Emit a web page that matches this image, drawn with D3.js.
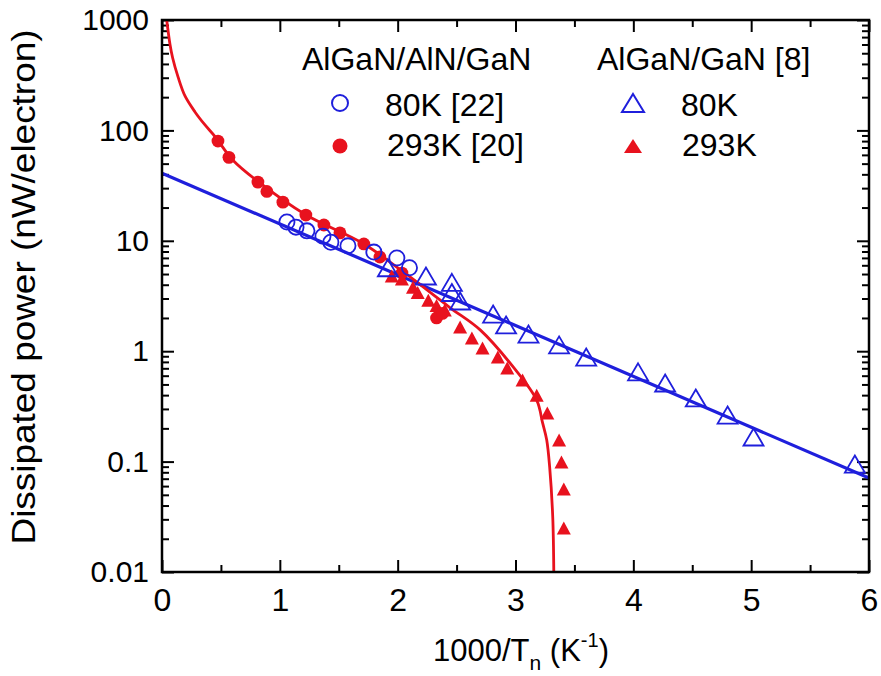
<!DOCTYPE html>
<html>
<head>
<meta charset="utf-8">
<script src="https://cdn.jsdelivr.net/npm/d3@7"></script>
<style>
  html, body { margin: 0; padding: 0; background: #fff; }
  svg { display: block; font-family: "Liberation Sans", Arial, Helvetica, sans-serif; }
</style>
</head>
<body>
<svg id="chart" width="881" height="676"></svg>
<script>
// Dissipated power per electron vs inverse electron temperature
const xTicks = [0, 1, 2, 3, 4, 5, 6];
const yTicks = [0.01, 0.1, 1, 10, 100, 1000];

// AlGaN/AlN/GaN, 80 K [22] (open circles)
const circ80X = [1.06, 1.137, 1.23, 1.366, 1.433, 1.578, 1.798, 1.993, 2.10];
const circ80Y = [14.8, 13.3, 12.3, 11.0, 9.7, 9.0, 7.9, 7.0, 5.7];

// AlGaN/AlN/GaN, 293 K [20] (filled circles)
const circ293X = [0.475, 0.568, 0.814, 0.89, 1.026, 1.221, 1.374, 1.51, 1.713, 1.849, 2.036, 2.33, 2.38];
const circ293Y = [80, 57, 34, 28, 22.4, 17.1, 13.9, 11.8, 9.36, 7.13, 5.1, 2.0, 2.2];

// AlGaN/GaN [8], 80 K (open triangles)
const tri80X = [1.917, 2.24, 2.46, 2.46, 2.53, 2.81, 2.92, 3.11, 3.37, 3.60, 4.04, 4.27, 4.53, 4.80, 5.02, 5.88];
const tri80Y = [5.7, 4.8, 4.2, 3.4, 2.85, 2.17, 1.73, 1.43, 1.14, 0.885, 0.65, 0.515, 0.377, 0.264, 0.167, 0.095];

// AlGaN/GaN [8], 293 K (filled triangles)
const tri293X = [1.95, 2.036, 2.13, 2.17, 2.26, 2.33, 2.40, 2.53, 2.63, 2.72, 2.85, 2.93, 3.06, 3.18, 3.27, 3.37, 3.39, 3.41, 3.41];
const tri293Y = [4.8, 4.5, 3.8, 3.4, 2.9, 2.6, 2.36, 1.66, 1.32, 1.07, 0.885, 0.705, 0.548, 0.40, 0.275, 0.157, 0.099, 0.0565, 0.025];

// fitted curves
const fit80X = [0, 6];
const fit80Y = [41, 0.071];
const fit293X = [0.04, 0.068, 0.09, 0.136, 0.195, 0.28, 0.365, 0.45, 0.6, 0.814, 1.22, 1.71, 2.04, 2.44, 2.70, 2.98, 3.18, 3.23, 3.265, 3.29, 3.316, 3.325];
const fit293Y = [1000, 600, 455, 305, 205, 147, 112, 88, 54, 34.5, 17.2, 9.4, 5.3, 2.5, 1.56, 0.72, 0.36, 0.224, 0.157, 0.089, 0.0315, 0.01];

const legendLeftTitle = "AlGaN/AlN/GaN";
const legendRightTitle = "AlGaN/GaN [8]";
const legendLeftLabels = ["80K [22]", "293K [20]"];
const legendRightLabels = ["80K", "293K"];

const BLUE = "#1f1fdc";
const RED = "#e8121e";

const svg = d3.select("#chart");
const L = 162, R = 869, T = 20, B = 572;

const x = d3.scaleLinear().domain([0, 6]).range([L, R]);
const y = d3.scaleLog().domain([0.01, 1000]).range([B, T]);

const zip = (xs, ys) => xs.map((v, i) => [v, ys[i]]);

// minor ticks
const xMinor = d3.range(0.5, 6, 1);
const yMinor = [];
for (let e = -2; e < 3; e++) for (let m = 2; m <= 9; m++) yMinor.push(m * Math.pow(10, e));

const tickStyle = g => {
  g.select(".domain").remove();
  g.selectAll(".tick line").attr("stroke", "#000").attr("stroke-width", 2);
};

// bottom axis with labels
svg.append("g").attr("transform", `translate(0,${B})`)
  .call(d3.axisBottom(x).tickValues(xTicks).tickSize(-12).tickPadding(16).tickFormat(d3.format("d")))
  .call(tickStyle)
  .call(g => g.selectAll("text").attr("font-size", 32).attr("fill", "#000").attr("font-family", null));
svg.append("g").attr("transform", `translate(0,${B})`)
  .call(d3.axisBottom(x).tickValues(xMinor).tickSize(-7).tickFormat(""))
  .call(tickStyle);
// top axis (mirror)
svg.append("g").attr("transform", `translate(0,${T})`)
  .call(d3.axisTop(x).tickValues(xTicks).tickSize(-12).tickFormat(""))
  .call(tickStyle);
svg.append("g").attr("transform", `translate(0,${T})`)
  .call(d3.axisTop(x).tickValues(xMinor).tickSize(-7).tickFormat(""))
  .call(tickStyle);

// left axis with labels
const yFmt = d => (d >= 1 ? d3.format("d")(d) : String(d));
svg.append("g").attr("transform", `translate(${L},0)`)
  .call(d3.axisLeft(y).tickValues(yTicks).tickSize(-12).tickPadding(13).tickFormat(yFmt))
  .call(tickStyle)
  .call(g => g.selectAll("text").attr("font-size", 30).attr("fill", "#000").attr("font-family", null));
svg.append("g").attr("transform", `translate(${L},0)`)
  .call(d3.axisLeft(y).tickValues(yMinor).tickSize(-7).tickFormat(""))
  .call(tickStyle);
// right axis (mirror)
svg.append("g").attr("transform", `translate(${R},0)`)
  .call(d3.axisRight(y).tickValues(yTicks).tickSize(-12).tickFormat(""))
  .call(tickStyle);
svg.append("g").attr("transform", `translate(${R},0)`)
  .call(d3.axisRight(y).tickValues(yMinor).tickSize(-7).tickFormat(""))
  .call(tickStyle);

// plot clip
svg.append("clipPath").attr("id", "plotClip")
  .append("rect").attr("x", L).attr("y", T).attr("width", R - L).attr("height", B - T);

const plot = svg.append("g").attr("clip-path", "url(#plotClip)");

const line = d3.line().x(d => x(d[0])).y(d => y(d[1])).curve(d3.curveCatmullRom.alpha(0.5));

plot.append("path").datum(zip(fit80X, fit80Y))
  .attr("d", d3.line().x(d => x(d[0])).y(d => y(d[1])))
  .attr("fill", "none").attr("stroke", BLUE).attr("stroke-width", 3.2);
plot.append("path").datum(zip(fit293X, fit293Y))
  .attr("d", line)
  .attr("fill", "none").attr("stroke", RED).attr("stroke-width", 2.8);

// triangle path centred on its bounding box
const triPath = (w, h) => `M0,${-h / 2}L${w / 2},${h / 2}L${-w / 2},${h / 2}Z`;

plot.selectAll(".t293").data(zip(tri293X, tri293Y)).join("path")
  .attr("transform", d => `translate(${x(d[0])},${y(d[1])})`)
  .attr("d", triPath(14, 13)).attr("fill", RED);

plot.selectAll(".c293").data(zip(circ293X, circ293Y)).join("circle")
  .attr("cx", d => x(d[0])).attr("cy", d => y(d[1])).attr("r", 6.4).attr("fill", RED);

plot.selectAll(".c80").data(zip(circ80X, circ80Y)).join("circle")
  .attr("cx", d => x(d[0])).attr("cy", d => y(d[1])).attr("r", 7.6)
  .attr("fill", "none").attr("stroke", BLUE).attr("stroke-width", 1.8);

plot.selectAll(".t80").data(zip(tri80X, tri80Y)).join("path")
  .attr("transform", d => `translate(${x(d[0])},${y(d[1])})`)
  .attr("d", triPath(20, 17)).attr("fill", "none").attr("stroke", BLUE).attr("stroke-width", 1.8);

// frame
svg.append("rect").attr("x", L).attr("y", T).attr("width", R - L).attr("height", B - T)
  .attr("fill", "none").attr("stroke", "#000").attr("stroke-width", 2.5);

// legend
const lg = svg.append("g").attr("font-size", 32).attr("fill", "#000");
lg.append("text").attr("x", 302).attr("y", 70).text(legendLeftTitle);
lg.append("text").attr("x", 597).attr("y", 70).text(legendRightTitle);
lg.append("text").attr("x", 385).attr("y", 116).text(legendLeftLabels[0]);
lg.append("text").attr("x", 387).attr("y", 156).text(legendLeftLabels[1]);
lg.append("text").attr("x", 681).attr("y", 116).text(legendRightLabels[0]);
lg.append("text").attr("x", 682).attr("y", 156).text(legendRightLabels[1]);
lg.append("circle").attr("cx", 340).attr("cy", 103).attr("r", 8)
  .attr("fill", "none").attr("stroke", BLUE).attr("stroke-width", 2);
lg.append("circle").attr("cx", 340).attr("cy", 146).attr("r", 7.5).attr("fill", RED);
lg.append("path").attr("transform", "translate(633,103)").attr("d", triPath(22, 18))
  .attr("fill", "none").attr("stroke", BLUE).attr("stroke-width", 2);
lg.append("path").attr("transform", "translate(633,146)").attr("d", triPath(18, 14)).attr("fill", RED);

// axis titles
const xt = svg.append("text").attr("x", 521).attr("y", 661).attr("text-anchor", "middle")
  .attr("font-size", 31).attr("fill", "#000");
xt.append("tspan").text("1000/T");
xt.append("tspan").attr("font-size", 21).attr("dy", 9).text("n");
xt.append("tspan").attr("dy", -9).text(" (K");
xt.append("tspan").attr("font-size", 20).attr("dy", -14).text("-1");
xt.append("tspan").attr("dy", 14).text(")");

svg.append("text")
  .attr("transform", "translate(35,287) rotate(-90)")
  .attr("text-anchor", "middle").attr("font-size", 33).attr("fill", "#000")
  .attr("textLength", 515).attr("lengthAdjust", "spacingAndGlyphs")
  .text("Dissipated power (nW/electron)");
</script>
</body>
</html>
